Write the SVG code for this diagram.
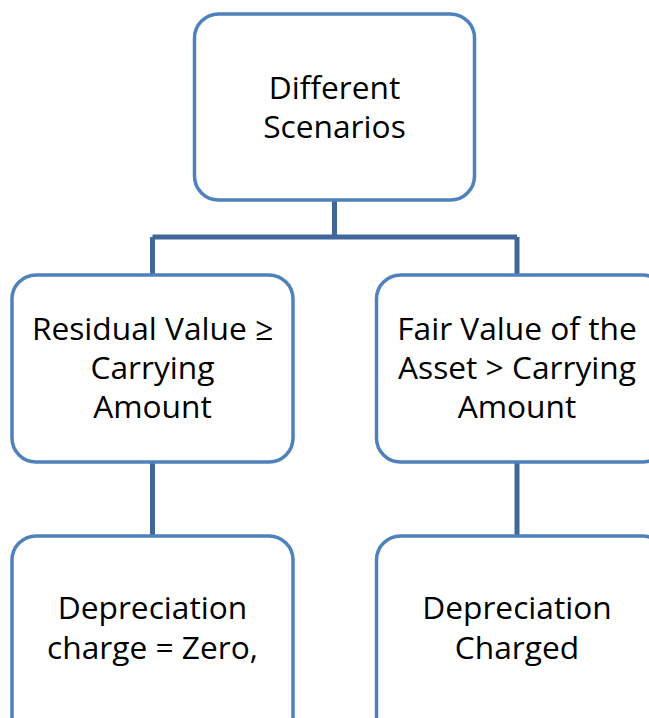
<svg xmlns="http://www.w3.org/2000/svg" width="649" height="718" viewBox="0 0 649 718">
  <style>
    .box { fill: #ffffff; stroke: #4f81bd; stroke-width: 3.5; }
    .wire { fill: none; stroke: #41669a; stroke-width: 5; }
    .label { font-family: "Open Sans", "DejaVu Sans", sans-serif; font-size: 31.7px; fill: #000000; text-anchor: middle; }
  </style>
  <rect width="649" height="718" fill="#ffffff"/>

  <!-- tree connectors -->
  <g id="connectors">
    <path class="wire" d="M334.5 200 V237 M152.5 237 H517 M152.5 237 V275 M517 237 V275"/>
    <path class="wire" d="M152.5 462 V536"/>
    <path class="wire" d="M517 462 V536"/>
  </g>

  <g id="root">
    <rect class="box" x="194.5" y="14" width="280" height="186" rx="24"/>
    <text class="label" x="334.5" y="99">Different</text>
    <text class="label" x="334.5" y="138">Scenarios</text>
  </g>

  <g id="residual">
    <rect class="box" x="12" y="275" width="281" height="187" rx="24"/>
    <text class="label" x="152.5" y="340">Residual Value ≥</text>
    <text class="label" x="152.5" y="379">Carrying</text>
    <text class="label" x="152.5" y="418">Amount</text>
  </g>

  <g id="fair-value">
    <rect class="box" x="376.5" y="275" width="290" height="187" rx="24"/>
    <text class="label" x="517" y="340">Fair Value of the</text>
    <text class="label" x="517" y="379">Asset &gt; Carrying</text>
    <text class="label" x="517" y="418">Amount</text>
  </g>

  <g id="zero-charge">
    <rect class="box" x="12" y="536" width="281" height="210" rx="24"/>
    <text class="label" x="152.5" y="619">Depreciation</text>
    <text class="label" x="152.5" y="659">charge = Zero,</text>
  </g>

  <g id="charged">
    <rect class="box" x="376.5" y="536" width="290" height="210" rx="24"/>
    <text class="label" x="517" y="619">Depreciation</text>
    <text class="label" x="517" y="659">Charged</text>
  </g>
</svg>
